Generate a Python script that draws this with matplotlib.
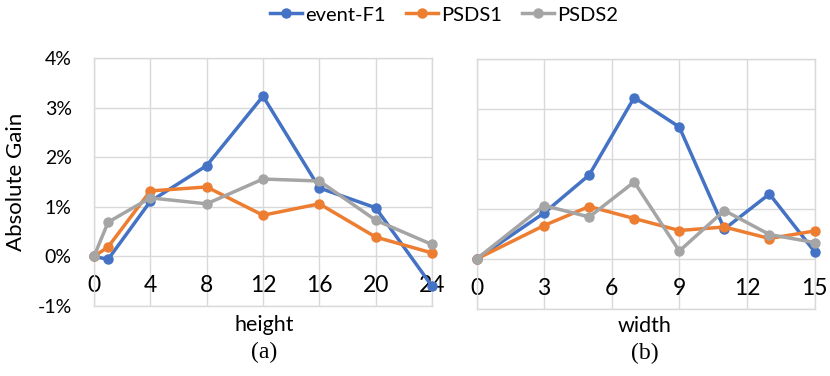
import matplotlib
matplotlib.use("Agg")
import matplotlib.pyplot as plt
from matplotlib import font_manager
from matplotlib.ticker import PercentFormatter, FixedLocator

# ---------------- data ----------------
height_x = [0, 1, 4, 8, 12, 16, 20, 24]
height_event_f1 = [0.0, -0.06, 1.11, 1.83, 3.23, 1.38, 0.98, -0.60]
height_psds1 = [0.0, 0.19, 1.32, 1.40, 0.83, 1.06, 0.39, 0.07]
height_psds2 = [0.0, 0.69, 1.18, 1.06, 1.56, 1.52, 0.73, 0.24]

width_x = [0, 3, 5, 7, 9, 11, 13, 15]
width_event_f1 = [0.0, 0.92, 1.68, 3.23, 2.64, 0.60, 1.30, 0.15]
width_psds1 = [0.0, 0.67, 1.05, 0.81, 0.57, 0.64, 0.41, 0.56]
width_psds2 = [0.0, 1.07, 0.84, 1.54, 0.16, 0.97, 0.49, 0.33]

height_ticks = [0, 4, 8, 12, 16, 20, 24]
width_ticks = [0, 3, 6, 9, 12, 15]
y_ticks = [-1, 0, 1, 2, 3, 4]

series_names = ["event-F1", "PSDS1", "PSDS2"]
colors = ["#4472C4", "#ED7D31", "#A5A5A5"]

# ---------------- fonts ----------------
avail = {f.name for f in font_manager.fontManager.ttflist}
main_font = "Lato" if "Lato" in avail else "DejaVu Sans"
if "Liberation Sans Narrow" in avail:
    tick_font, tick_size = "Liberation Sans Narrow", 19
else:
    tick_font, tick_size = main_font, 16.5
serif_font = "Liberation Serif" if "Liberation Serif" in avail else "DejaVu Serif"

plt.rcParams["font.family"] = [main_font, "DejaVu Sans"]
plt.rcParams["axes.unicode_minus"] = False

GRID = "#D9D9D9"

fig = plt.figure(figsize=(8.30, 3.76), dpi=100)
W, H = 830.0, 376.0
ax1 = fig.add_axes([94 / W, 1 - 306 / H, 338 / W, 248 / H])
ax2 = fig.add_axes([476.5 / W, 1 - 309 / H, 338 / W, 250 / H])


def style(ax, xs, ticks, show_y):
    ax.set_xlim(xs[0], xs[-1])
    ax.set_ylim(-1, 4)
    ax.xaxis.set_major_locator(FixedLocator(ticks))
    ax.yaxis.set_major_locator(FixedLocator(y_ticks))
    ax.yaxis.set_major_formatter(PercentFormatter(xmax=100, decimals=0))
    ax.grid(True, color=GRID, linewidth=1.0, zorder=0)
    ax.set_axisbelow(True)
    for sp in ax.spines.values():
        sp.set_color(GRID)
        sp.set_linewidth(1.0)
    ax.tick_params(axis="x", length=0, pad=-15, labelsize=tick_size)
    for lab in ax.get_xticklabels():
        lab.set_fontfamily([tick_font, "DejaVu Sans"])
        lab.set_va("center")
    ax.tick_params(axis="y", length=0, pad=16, labelsize=14,
                   labelleft=show_y)


datasets = [
    (ax1, height_x, [height_event_f1, height_psds1, height_psds2], height_ticks, True),
    (ax2, width_x, [width_event_f1, width_psds1, width_psds2], width_ticks, False),
]
handles = []
for ax, xs, ys_list, ticks, show_y in datasets:
    style(ax, xs, ticks, show_y)
    hs = []
    for ys, c, name in zip(ys_list, colors, series_names):
        (h,) = ax.plot(xs, ys, color=c, linewidth=2.5, marker="o",
                       markersize=6.5, label=name, clip_on=False, zorder=3)
        hs.append(h)
    handles = hs

fig.legend(handles, series_names, loc="center",
           bbox_to_anchor=(444 / W, 1 - 15 / H), ncol=3, frameon=False,
           fontsize=14.5, handlelength=1.6, handletextpad=0.15,
           columnspacing=1.0, borderaxespad=0, borderpad=0)

fig.text(16 / W, 1 - 182 / H, "Absolute Gain", rotation=90, ha="center",
         va="center", fontsize=16)
fig.text(264 / W, 1 - 325 / H, "height", ha="center", va="center", fontsize=15.5)
fig.text(645 / W, 1 - 326 / H, "width", ha="center", va="center", fontsize=15.5)
fig.text(264 / W, 1 - 352 / H, "(a)", ha="center", va="center", fontsize=17,
         family=serif_font)
fig.text(645 / W, 1 - 353 / H, "(b)", ha="center", va="center", fontsize=17,
         family=serif_font)

fig.savefig("out.png", dpi=100)
